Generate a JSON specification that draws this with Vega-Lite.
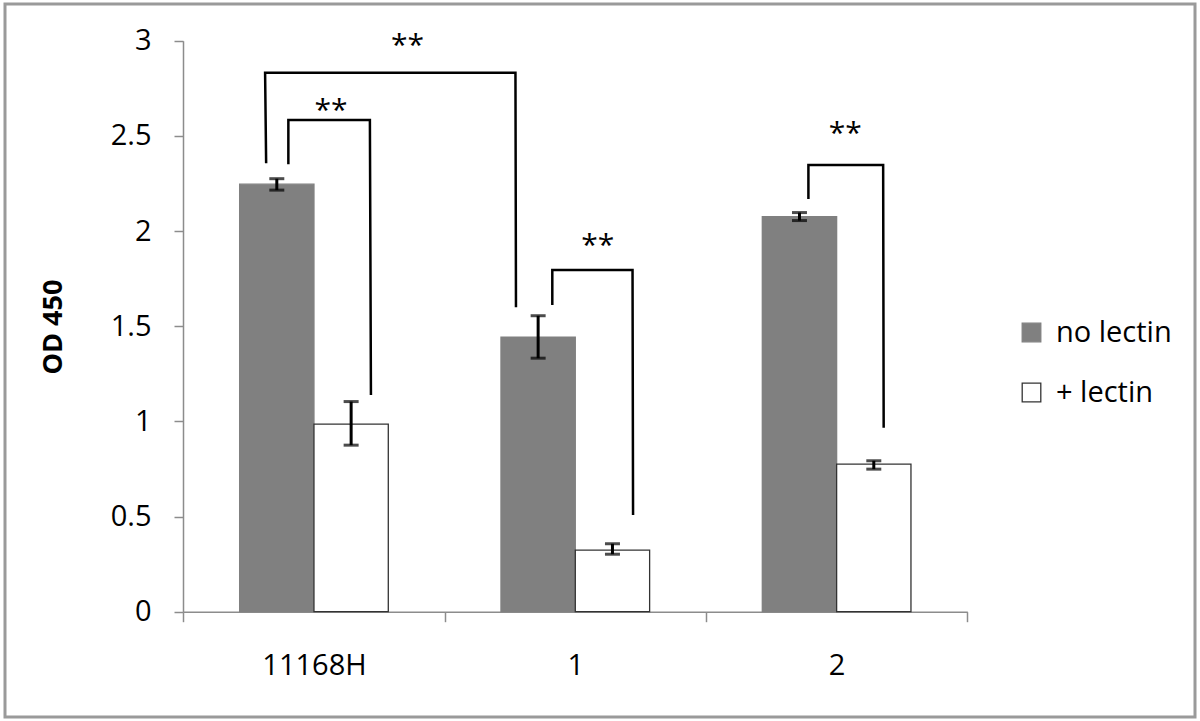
{
  "$schema": "https://vega.github.io/schema/vega-lite/v6.json",
  "autosize": {"type": "none"},
  "padding": {"left": 5, "top": 4, "right": 5, "bottom": 4},
  "width": 1190,
  "height": 713,
  "background": "white",
  "config": {
    "view": {"stroke": "#9a9a9a", "strokeWidth": 3},
    "font": "Open Sans",
    "axis": {
      "grid": false,
      "domainColor": "#8c8c8c",
      "tickColor": "#8c8c8c",
      "domainWidth": 1.5,
      "tickWidth": 1.5,
      "labelColor": "#000000",
      "labelFont": "Open Sans",
      "labelFontSize": 29,
      "titleFont": "Open Sans",
      "titleColor": "#000000"
    }
  },
  "datasets": {
    "bars": [
      {"strain": "11168H", "treatment": "no lectin", "od": 2.246, "lo": 2.215, "hi": 2.275},
      {"strain": "11168H", "treatment": "+ lectin", "od": 0.986, "lo": 0.875, "hi": 1.104},
      {"strain": "1", "treatment": "no lectin", "od": 1.442, "lo": 1.332, "hi": 1.555},
      {"strain": "1", "treatment": "+ lectin", "od": 0.324, "lo": 0.302, "hi": 0.357},
      {"strain": "2", "treatment": "no lectin", "od": 2.076, "lo": 2.055, "hi": 2.097},
      {"strain": "2", "treatment": "+ lectin", "od": 0.775, "lo": 0.749, "hi": 0.793}
    ],
    "brackets": [
      {"bracket": "A", "seq": 1, "pos": 0.317, "val": 2.356},
      {"bracket": "A", "seq": 2, "pos": 0.313, "val": 2.832},
      {"bracket": "A", "seq": 3, "pos": 1.271, "val": 2.832},
      {"bracket": "A", "seq": 4, "pos": 1.273, "val": 1.599},
      {"bracket": "B", "seq": 1, "pos": 0.402, "val": 2.351},
      {"bracket": "B", "seq": 2, "pos": 0.402, "val": 2.583},
      {"bracket": "B", "seq": 3, "pos": 0.714, "val": 2.583},
      {"bracket": "B", "seq": 4, "pos": 0.718, "val": 1.139},
      {"bracket": "C", "seq": 1, "pos": 1.412, "val": 1.611},
      {"bracket": "C", "seq": 2, "pos": 1.412, "val": 1.795},
      {"bracket": "C", "seq": 3, "pos": 1.719, "val": 1.795},
      {"bracket": "C", "seq": 4, "pos": 1.721, "val": 0.508},
      {"bracket": "D", "seq": 1, "pos": 2.392, "val": 2.168},
      {"bracket": "D", "seq": 2, "pos": 2.392, "val": 2.347},
      {"bracket": "D", "seq": 3, "pos": 2.678, "val": 2.347},
      {"bracket": "D", "seq": 4, "pos": 2.680, "val": 0.967}
    ],
    "stars": [
      {"label": "**", "pos": 0.858, "val": 2.998},
      {"label": "**", "pos": 0.565, "val": 2.656},
      {"label": "**", "pos": 1.586, "val": 1.949},
      {"label": "**", "pos": 2.533, "val": 2.536}
    ]
  },
  "layer": [
    {
      "data": {"name": "bars"},
      "layer": [
        {
          "mark": {"type": "bar", "strokeWidth": 1.3},
          "encoding": {
            "x": {
              "field": "strain",
              "type": "nominal",
              "sort": ["11168H", "1", "2"],
              "scale": {"range": [178.3, 962.3], "paddingInner": 0, "paddingOuter": 0},
              "axis": {
                "title": null,
                "orient": "bottom",
                "offset": -105.3,
                "tickBand": "extent",
                "tickSize": 10,
                "labelPadding": 30,
                "labelAngle": 0
              }
            },
            "xOffset": {
              "field": "treatment",
              "type": "nominal",
              "sort": ["no lectin", "+ lectin"],
              "scale": {"paddingInner": 0, "paddingOuter": 0.758}
            },
            "y": {
              "field": "od",
              "type": "quantitative",
              "scale": {"domain": [0, 3], "range": [607.7, 36.7], "nice": false},
              "axis": {
                "title": "OD 450",
                "orient": "left",
                "offset": -178,
                "values": [0, 0.5, 1, 1.5, 2, 2.5, 3],
                "format": "~g",
                "tickSize": 9,
                "labelPadding": 23,
                "titleFontSize": 27,
                "titleFontWeight": "bold",
                "titleAngle": 270,
                "titleBaseline": "middle",
                "titleX": -130,
                "titleY": 322.5
              }
            },
            "fill": {
              "field": "treatment",
              "type": "nominal",
              "scale": {"domain": ["no lectin", "+ lectin"], "range": ["#808080", "#ffffff"]},
              "legend": {
                "orient": "none",
                "legendX": 1012,
                "legendY": 314,
                "title": null,
                "symbolType": "square",
                "symbolSize": 346,
                "symbolStrokeWidth": 1.3,
                "labelFontSize": 29,
                "labelFont": "Open Sans",
                "labelColor": "#000000",
                "labelOffset": 10,
                "rowPadding": 30,
                "padding": 0
              }
            },
            "stroke": {
              "field": "treatment",
              "type": "nominal",
              "scale": {"domain": ["no lectin", "+ lectin"], "range": ["#808080", "#333333"]},
              "legend": {
                "orient": "none",
                "legendX": 1012,
                "legendY": 314,
                "title": null,
                "symbolType": "square",
                "symbolSize": 346,
                "symbolStrokeWidth": 1.3,
                "labelFontSize": 29,
                "labelFont": "Open Sans",
                "labelColor": "#000000",
                "labelOffset": 10,
                "rowPadding": 30,
                "padding": 0
              }
            }
          }
        },
        {
          "mark": {"type": "rule", "color": "#000000", "strokeWidth": 3},
          "encoding": {
            "x": {"field": "strain", "type": "nominal", "sort": ["11168H", "1", "2"]},
            "xOffset": {"field": "treatment", "type": "nominal", "sort": ["no lectin", "+ lectin"]},
            "y": {"field": "lo", "type": "quantitative"},
            "y2": {"field": "hi"}
          }
        },
        {
          "mark": {"type": "tick", "color": "#000000", "thickness": 3, "size": 15, "orient": "horizontal"},
          "encoding": {
            "x": {"field": "strain", "type": "nominal", "sort": ["11168H", "1", "2"]},
            "xOffset": {"field": "treatment", "type": "nominal", "sort": ["no lectin", "+ lectin"]},
            "y": {"field": "lo", "type": "quantitative"}
          }
        },
        {
          "mark": {"type": "tick", "color": "#000000", "thickness": 3, "size": 15, "orient": "horizontal"},
          "encoding": {
            "x": {"field": "strain", "type": "nominal", "sort": ["11168H", "1", "2"]},
            "xOffset": {"field": "treatment", "type": "nominal", "sort": ["no lectin", "+ lectin"]},
            "y": {"field": "hi", "type": "quantitative"}
          }
        }
      ]
    },
    {
      "layer": [
        {
          "data": {"name": "brackets"},
          "mark": {"type": "line", "color": "#000000", "strokeWidth": 2.5, "strokeJoin": "miter", "strokeCap": "butt"},
          "encoding": {
            "x": {"field": "pos", "type": "quantitative", "scale": {"domain": [0, 3], "range": [178.3, 962.3], "nice": false, "zero": false}, "axis": null},
            "y": {"field": "val", "type": "quantitative"},
            "detail": {"field": "bracket"},
            "order": {"field": "seq"}
          }
        },
        {
          "data": {"name": "stars"},
          "mark": {"type": "text", "font": "Open Sans", "fontSize": 30, "color": "#000000", "baseline": "middle", "align": "center", "dy": 5},
          "encoding": {
            "x": {"field": "pos", "type": "quantitative", "axis": null},
            "y": {"field": "val", "type": "quantitative"},
            "text": {"field": "label"}
          }
        }
      ]
    }
  ],
  "resolve": {"scale": {"x": "independent"}}
}
